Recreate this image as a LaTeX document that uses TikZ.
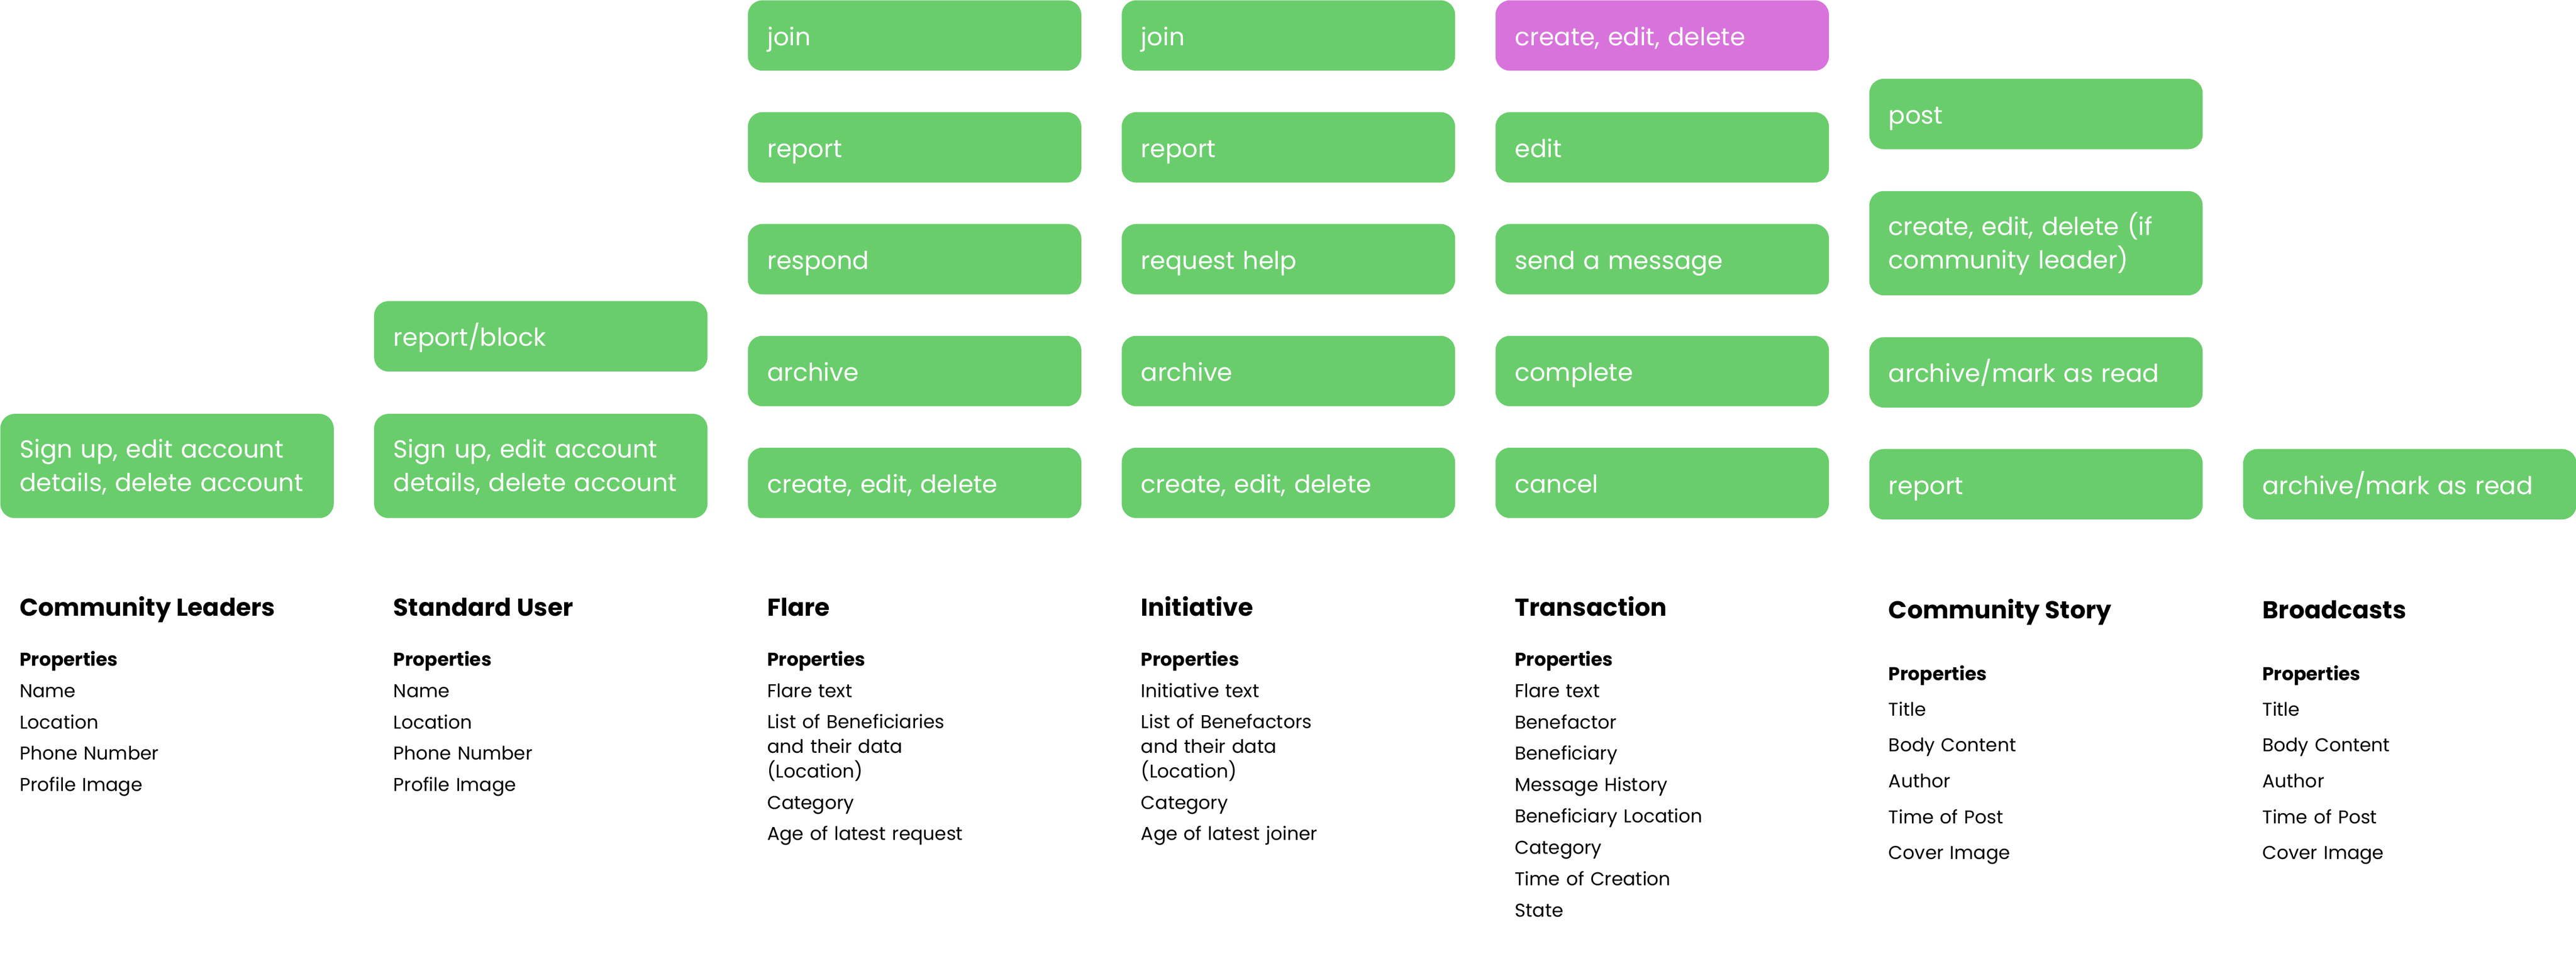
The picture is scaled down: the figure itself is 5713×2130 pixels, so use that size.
\documentclass[tikz,border=0pt]{standalone}
\usepackage{fontspec}
\setmainfont{Poppins}
\definecolor{actgreen}{HTML}{6ACD6C}
\definecolor{actpink}{HTML}{D873DC}

\begin{document}
\begin{tikzpicture}[x=0.01cm, y=-0.01cm,
    act/.style={rectangle, rounded corners=.32cm, fill=actgreen, text=white, anchor=north west,
        minimum width=7.39cm, minimum height=1.56cm, inner xsep=.43cm, inner ysep=0pt,
        text width=6.53cm, align=left, font=\fontsize{15.5pt}{21.05pt}\selectfont,
        text height=.5cm, text depth=.06cm},
    acttall/.style={act, minimum height=2.31cm, text depth=.85cm},
    entity/.style={anchor=base west, inner sep=0pt, font=\bfseries\fontsize{15.4pt}{20pt}\selectfont},
    proptitle/.style={anchor=base west, inner sep=0pt, font=\bfseries\fontsize{11.7pt}{15pt}\selectfont},
    prop/.style={anchor=base west, inner sep=0pt, text width=6cm, align=left,
        font=\fontsize{11.7pt}{15.65pt}\selectfont}]
\useasboundingbox (0,0) rectangle (5713,2130);

% Community Leaders
\node[acttall] (cl-acc) at (0,917) {Sign up, edit account\\details, delete account};
\node[entity] (cl) at (43,1366) {Community Leaders};
\node[proptitle] (cl-p) at (43,1477) {Properties};
\node[prop] (cl-1) at (43,1546) {Name};
\node[prop] (cl-2) at (43,1616) {Location};
\node[prop] (cl-3) at (43,1685) {Phone Number};
\node[prop] (cl-4) at (43,1755) {Profile Image};

% Standard User
\node[act] (su-block) at (829,667) {report/block};
\node[acttall] (su-acc) at (829,917) {Sign up, edit account\\details, delete account};
\node[entity] (su) at (872,1366) {Standard User};
\node[proptitle] (su-p) at (872,1477) {Properties};
\node[prop] (su-1) at (872,1546) {Name};
\node[prop] (su-2) at (872,1616) {Location};
\node[prop] (su-3) at (872,1685) {Phone Number};
\node[prop] (su-4) at (872,1755) {Profile Image};

% Flare
\node[act] (fl-join) at (1658,0) {join};
\node[act] (fl-report) at (1658,248) {report};
\node[act] (fl-respond) at (1658,496) {respond};
\node[act] (fl-archive) at (1658,744) {archive};
\node[act] (fl-create) at (1658,992) {create, edit, delete};
\node[entity] (fl) at (1701,1366) {Flare};
\node[proptitle] (fl-p) at (1701,1477) {Properties};
\node[prop] (fl-1) at (1701,1546) {Flare text};
\node[prop] (fl-2) at (1701,1615) {List of Beneficiaries\\and their data\\(Location)};
\node[prop] (fl-3) at (1701,1794) {Category};
\node[prop] (fl-4) at (1701,1863) {Age of latest request};

% Initiative
\node[act] (in-join) at (2487,0) {join};
\node[act] (in-report) at (2487,248) {report};
\node[act] (in-help) at (2487,496) {request help};
\node[act] (in-archive) at (2487,744) {archive};
\node[act] (in-create) at (2487,992) {create, edit, delete};
\node[entity] (in) at (2530,1366) {Initiative};
\node[proptitle] (in-p) at (2530,1477) {Properties};
\node[prop] (in-1) at (2530,1546) {Initiative text};
\node[prop] (in-2) at (2530,1615) {List of Benefactors\\and their data\\(Location)};
\node[prop] (in-3) at (2530,1794) {Category};
\node[prop] (in-4) at (2530,1863) {Age of latest joiner};

% Transaction
\node[act, fill=actpink] (tr-create) at (3316,0) {create, edit, delete};
\node[act] (tr-edit) at (3316,248) {edit};
\node[act] (tr-msg) at (3316,496) {send a message};
\node[act] (tr-complete) at (3316,744) {complete};
\node[act] (tr-cancel) at (3316,992) {cancel};
\node[entity] (tr) at (3359,1366) {Transaction};
\node[proptitle] (tr-p) at (3359,1477) {Properties};
\node[prop] (tr-1) at (3359,1547) {Flare text};
\node[prop] (tr-2) at (3359,1616) {Benefactor};
\node[prop] (tr-3) at (3359,1685) {Beneficiary};
\node[prop] (tr-4) at (3359,1755) {Message History};
\node[prop] (tr-5) at (3359,1824) {Beneficiary Location};
\node[prop] (tr-6) at (3359,1894) {Category};
\node[prop] (tr-7) at (3359,1963) {Time of Creation};
\node[prop] (tr-8) at (3359,2033) {State};

% Community Story
\node[act] (cs-post) at (4145,174) {post};
\node[acttall] (cs-create) at (4145,423) {create, edit, delete (if\\community leader)};
\node[act] (cs-archive) at (4145,747) {archive/mark as read};
\node[act] (cs-report) at (4145,995) {report};
\node[entity] (cs) at (4188,1372) {Community Story};
\node[proptitle] (cs-p) at (4188,1509) {Properties};
\node[prop] (cs-1) at (4188,1588) {Title};
\node[prop] (cs-2) at (4188,1667) {Body Content};
\node[prop] (cs-3) at (4188,1746) {Author};
\node[prop] (cs-4) at (4188,1826) {Time of Post};
\node[prop] (cs-5) at (4188,1905) {Cover Image};

% Broadcasts
\node[act] (bc-archive) at (4974,995) {archive/mark as read};
\node[entity] (bc) at (5017,1372) {Broadcasts};
\node[proptitle] (bc-p) at (5017,1509) {Properties};
\node[prop] (bc-1) at (5017,1588) {Title};
\node[prop] (bc-2) at (5017,1667) {Body Content};
\node[prop] (bc-3) at (5017,1746) {Author};
\node[prop] (bc-4) at (5017,1826) {Time of Post};
\node[prop] (bc-5) at (5017,1905) {Cover Image};
\end{tikzpicture}
\end{document}
